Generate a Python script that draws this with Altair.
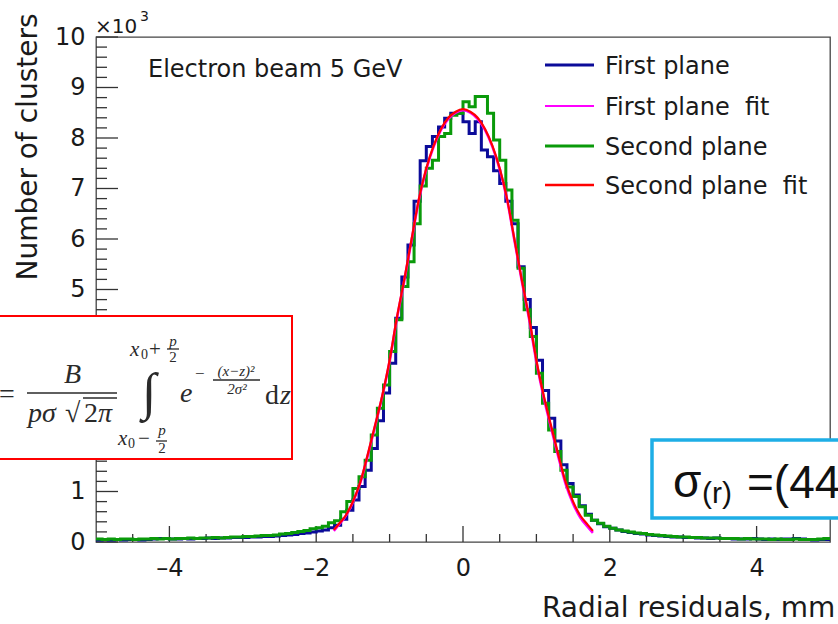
import altair as alt
import pandas as pd

# ---------------- data (counts in thousands) ----------------
bin_low, bin_high, n_bins = -5.0, 5.0, 120

first_plane = [
    0.04, 0.05, 0.04, 0.05, 0.04, 0.05, 0.05, 0.04, 0.05, 0.06, 0.07, 0.07,
    0.06, 0.06, 0.07, 0.06, 0.07, 0.07, 0.08, 0.07, 0.08, 0.08, 0.09, 0.09,
    0.09, 0.10, 0.10, 0.11, 0.11, 0.12, 0.13, 0.14, 0.15, 0.17, 0.18, 0.20,
    0.22, 0.24, 0.28, 0.33, 0.45, 0.63, 0.83, 1.10, 1.42, 1.85, 2.40, 2.95,
    3.54, 4.43, 5.25, 5.88, 6.75, 7.55, 7.83, 8.03, 8.22, 8.39, 8.49, 8.49,
    8.32, 8.09, 8.32, 7.76, 7.63, 7.35, 7.10, 6.75, 6.30, 5.45, 4.80, 4.25,
    3.60, 3.00, 2.45, 2.00, 1.53, 1.16, 0.93, 0.72, 0.55, 0.43, 0.36, 0.30,
    0.27, 0.24, 0.21, 0.19, 0.17, 0.16, 0.14, 0.13, 0.12, 0.11, 0.10, 0.10,
    0.09, 0.09, 0.08, 0.08, 0.07, 0.08, 0.07, 0.07, 0.06, 0.06, 0.06, 0.07,
    0.06, 0.05, 0.06, 0.05, 0.06, 0.06, 0.07, 0.06, 0.05, 0.04, 0.05, 0.05,
]
second_plane = [
    0.06, 0.05, 0.06, 0.05, 0.06, 0.06, 0.05, 0.06, 0.06, 0.07, 0.06, 0.07,
    0.06, 0.07, 0.07, 0.08, 0.07, 0.08, 0.08, 0.09, 0.08, 0.09, 0.10, 0.10,
    0.11, 0.11, 0.12, 0.13, 0.13, 0.14, 0.16, 0.17, 0.19, 0.21, 0.23, 0.26,
    0.28, 0.31, 0.38, 0.42, 0.60, 0.80, 1.06, 1.29, 1.62, 2.12, 2.65, 3.11,
    3.77, 4.40, 5.06, 5.55, 6.30, 7.05, 7.40, 7.56, 8.03, 8.09, 8.45, 8.49,
    8.72, 8.62, 8.82, 8.82, 8.49, 7.96, 7.56, 6.97, 6.37, 5.42, 4.60, 4.07,
    3.34, 2.75, 2.22, 1.79, 1.42, 1.09, 0.90, 0.70, 0.53, 0.43, 0.37, 0.31,
    0.27, 0.24, 0.22, 0.20, 0.18, 0.17, 0.15, 0.14, 0.13, 0.12, 0.11, 0.10,
    0.10, 0.09, 0.09, 0.08, 0.08, 0.08, 0.07, 0.07, 0.07, 0.06, 0.07, 0.06,
    0.06, 0.06, 0.05, 0.06, 0.05, 0.05, 0.06, 0.05, 0.05, 0.05, 0.06, 0.07,
]

fit_x = [-1.76, -1.70, -1.60, -1.50, -1.40, -1.30, -1.20, -1.10, -1.00, -0.90,
         -0.80, -0.70, -0.60, -0.50, -0.40, -0.30, -0.20, -0.10, 0.00, 0.10,
         0.20, 0.30, 0.40, 0.50, 0.60, 0.70, 0.80, 0.90, 1.00, 1.10,
         1.20, 1.30, 1.40, 1.50, 1.60, 1.70, 1.77]
fit_second = [0.24, 0.34, 0.52, 0.80, 1.18, 1.72, 2.30, 2.90, 3.60, 4.45,
              5.20, 6.00, 6.80, 7.40, 7.85, 8.18, 8.40, 8.52, 8.57, 8.52,
              8.40, 8.18, 7.85, 7.40, 6.80, 6.00, 5.20, 4.45, 3.60, 2.90,
              2.30, 1.72, 1.18, 0.80, 0.52, 0.34, 0.22]
fit_first = [0.22, 0.33, 0.51, 0.79, 1.17, 1.70, 2.28, 2.88, 3.58, 4.43,
             5.18, 5.98, 6.78, 7.38, 7.83, 8.16, 8.38, 8.50, 8.55, 8.50,
             8.38, 8.16, 7.83, 7.38, 6.78, 5.98, 5.18, 4.42, 3.57, 2.86,
             2.26, 1.68, 1.14, 0.76, 0.48, 0.30, 0.18]

x_label_values = [-4, -2, 0, 2, 4]
x_major_ticks = [-4, -2, 0, 2, 4]
x_minor_ticks = [-4.5, -3.5, -3, -2.5, -1.5, -1, -0.5, 0.5, 1, 1.5, 2.5, 3, 3.5, 4.5]
y_label_values = [0, 1, 2, 3, 4, 5, 6, 7, 8, 9, 10]
y_minor_ticks = [0.2, 0.4, 0.6, 0.8, 1.2, 1.4, 1.6, 1.8, 2.2, 2.4, 2.6, 2.8,
                 3.2, 3.4, 3.6, 3.8, 4.2, 4.4, 4.6, 4.8, 5.2, 5.4, 5.6, 5.8,
                 6.2, 6.4, 6.6, 6.8, 7.2, 7.4, 7.6, 7.8, 8.2, 8.4, 8.6, 8.8,
                 9.2, 9.4, 9.6, 9.8]

legend_labels = ["First plane", "First plane\u00a0 fit", "Second plane", "Second plane\u00a0 fit"]
legend_colors = ["#0b0b99", "#ff00ff", "#0a9a0a", "#ff0000"]
legend_widths = [3, 2, 3, 2.5]

# ---------------- layout ----------------
W, H = 734, 505
SANS = "DejaVu Sans"
SERIF = "Liberation Serif"
INK = "#1a1a1a"

xscale = alt.Scale(domain=[-5, 5], nice=False, zero=False)
yscale = alt.Scale(domain=[0, 10], nice=False, zero=False)
xaxis = alt.Axis(values=x_label_values, ticks=False, tickSize=0, domain=False, grid=False,
                 title=None, labelFont=SANS, labelFontSize=24, labelColor=INK,
                 labelPadding=33, labelBaseline="alphabetic", labelFlush=False,
                 labelOverlap=False,
                 labelExpr="datum.value < 0 ? '\u2013' + abs(datum.value) : '' + datum.value")
yaxis = alt.Axis(values=y_label_values, ticks=False, tickSize=0, domain=False, grid=False,
                 title=None, labelFont=SANS, labelFontSize=24, labelColor=INK,
                 labelPadding=11, labelBaseline="middle", labelFlush=False,
                 labelOverlap=False, format="d")


def X(field):
    return alt.X(field, type="quantitative", scale=xscale, axis=xaxis)


def Y(field):
    return alt.Y(field, type="quantitative", scale=yscale, axis=yaxis)


edges = [bin_low + i * (bin_high - bin_low) / n_bins for i in range(n_bins + 1)]


def hist_layer(vals, color):
    df = pd.DataFrame({"x": edges, "y": vals + [vals[-1]]})
    return alt.Chart(df).mark_line(color=color, strokeWidth=3, interpolate="step-after").encode(
        x=X("x"), y=Y("y"))


def fit_layer(vals, color, width):
    df = pd.DataFrame({"x": fit_x, "y": vals})
    return alt.Chart(df).mark_line(color=color, strokeWidth=width, interpolate="monotone").encode(
        x=X("x"), y=Y("y"))


def xtick_layer(vals, length):
    df = pd.DataFrame({"v": vals})
    return alt.Chart(df).mark_rule(color="#333", strokeWidth=1.3).encode(
        x=X("v"), y=alt.value(H), y2=alt.value(H - length))


def ytick_layer(vals, length):
    df = pd.DataFrame({"v": vals})
    return alt.Chart(df).mark_rule(color="#333", strokeWidth=1.3).encode(
        y=Y("v"), x=alt.value(0), x2=alt.value(length))


def text_layer(items, size, font=SANS, style="normal", align="left",
               baseline="alphabetic", color=INK, angle=None):
    df = pd.DataFrame(items, columns=["t", "px", "py"])
    kw = dict(font=font, fontSize=size, fontStyle=style, align=align,
              baseline=baseline, color=color)
    if angle is not None:
        kw["angle"] = angle
    return alt.Chart(df).mark_text(**kw).encode(
        x=alt.X("px:Q", scale=None), y=alt.Y("py:Q", scale=None), text="t:N")


def seg_layer(items, color, width):
    df = pd.DataFrame(items, columns=["x1", "y1", "x2", "y2"])
    return alt.Chart(df).mark_rule(color=color, strokeWidth=width).encode(
        x=alt.X("x1:Q", scale=None), x2="x2:Q",
        y=alt.Y("y1:Q", scale=None), y2="y2:Q")


def box_layer(x1, y1, x2, y2, stroke, width):
    df = pd.DataFrame({"x1": [x1], "y1": [y1], "x2": [x2], "y2": [y2]})
    return alt.Chart(df).mark_rect(fill="white", stroke=stroke, strokeWidth=width).encode(
        x=alt.X("x1:Q", scale=None), x2="x2:Q",
        y=alt.Y("y1:Q", scale=None), y2="y2:Q")


layers = [
    ytick_layer(y_label_values, 22),
    ytick_layer(y_minor_ticks, 11),
    xtick_layer(x_major_ticks, 16),
    xtick_layer(x_minor_ticks, 8),
    hist_layer(first_plane, legend_colors[0]),
    hist_layer(second_plane, legend_colors[2]),
    fit_layer(fit_first, legend_colors[1], 2.6),
    fit_layer(fit_second, legend_colors[3], 2.2),
]

# legend
leg_y = [28, 69, 109, 148]
for lab, col, wid, ly in zip(legend_labels, legend_colors, legend_widths, leg_y):
    layers.append(seg_layer([(449, ly, 498, ly)], col, wid))
    layers.append(text_layer([(lab, 509, ly + 9)], 24))

# titles & annotations
layers += [
    text_layer([("Electron beam 5 GeV", 52, 40)], 24),
    text_layer([("\u00d710", -1, -4)], 20),
    text_layer([("3", 44, -16)], 14),
    text_layer([("Number of clusters", -59, 110)], 28, align="center", angle=270),
    text_layer([("Radial residuals, mm", 446, 580)], 28),
]

# formula box (red)
FC = "#2a2a2a"
layers += [
    box_layer(-99, 279, 196, 422, "#ff0000", 2),
    text_layer([("=", -89, 366)], 28, font=SERIF, align="center", color=FC),
    text_layer([("B", -23.5, 346)], 28, font=SERIF, style="italic", align="center", color=FC),
    text_layer([("p\u03c3", -68, 385), ("\u03c0", 2, 385), ("e", 84, 365), ("z", 184, 367)],
               28, font=SERIF, style="italic", color=FC),
    text_layer([("\u221a", -31, 385), ("2", -12, 385), ("d", 169, 367)], 28, font=SERIF, color=FC),
    text_layer([("\u222b", 53, 372)], 52, font=SERIF, align="center", color=FC),
    text_layer([("x", 34, 319), ("x", 22, 408)], 21, font=SERIF, style="italic", color=FC),
    text_layer([("0", 45, 322), ("0", 32, 411)], 14, font=SERIF, color=FC),
    text_layer([("+", 53, 319), ("\u2212", 42, 408)], 21, font=SERIF, color=FC),
    text_layer([("p", 77, 309), ("p", 66, 398)], 15, font=SERIF, style="italic", align="center", color=FC),
    text_layer([("2", 77, 325), ("2", 66, 416)], 15, font=SERIF, align="center", color=FC),
    text_layer([("\u2212", 99, 342)], 17, font=SERIF, color=FC),
    text_layer([("(x\u2212z)\u00b2", 140, 339), ("2\u03c3\u00b2", 141, 357)], 15, font=SERIF,
               style="italic", align="center", color=FC),
    seg_layer([(-69, 356, 21, 356), (71, 312, 83, 312), (60, 404, 71, 404),
               (117, 343, 164, 343), (-13, 361, 21, 361)], FC, 1.3),
]

# sigma box (blue)
layers += [
    box_layer(556, 403, 760, 481, "#1eaee6", 3.5),
    text_layer([("\u03c3", 577, 460), ("=(44", 651, 461)], 46, font="Liberation Sans", color="#111"),
    text_layer([("(r)", 606, 466)], 30, font="Liberation Sans", color="#111"),
]

chart = alt.layer(*layers).properties(
    width=W, height=H,
    padding={"left": 96, "top": 37, "right": 8, "bottom": 82},
    autosize=alt.AutoSizeParams(type="none"),
    background="white",
).configure_view(stroke="#444", strokeWidth=1.3)

chart.save("out.html", embed_options={"renderer": "svg", "actions": False})
